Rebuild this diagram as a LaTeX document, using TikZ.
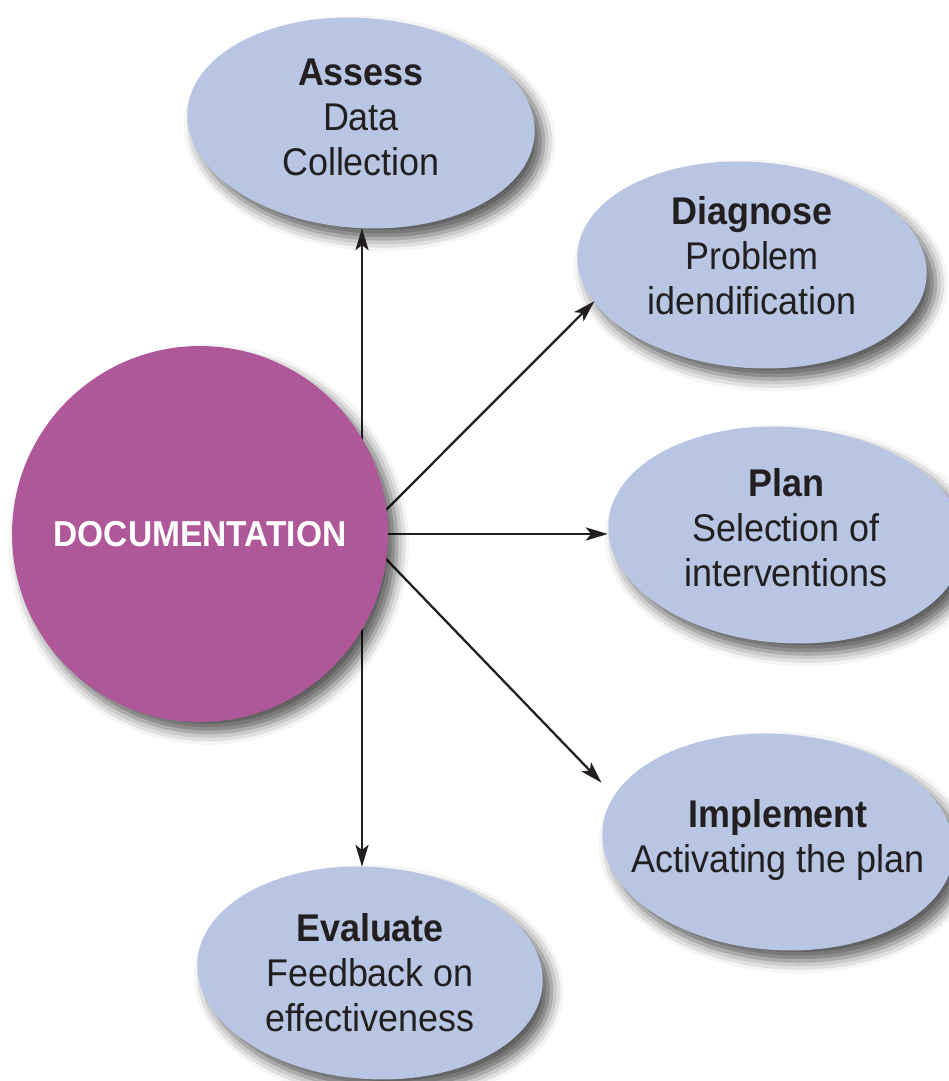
\documentclass[tikz,border=0pt]{standalone}
\usepackage{fontspec}
\setmainfont{Liberation Sans}[FakeStretch=0.93]
\usepackage{tikz}
\usetikzlibrary{arrows.meta,shapes.geometric,shadows.blur}
\definecolor{bubble}{HTML}{B8C6E4}
\definecolor{docpink}{HTML}{AF5899}
\definecolor{inkblack}{HTML}{231F20}

\begin{document}
\begin{tikzpicture}[x=0.02cm, y=-0.02cm,
		stage/.style n args={2}{ellipse, inner sep=0pt, align=center, text=inkblack,
			minimum width=#1*0.04cm, minimum height=#2*0.04cm,
			font=\fontsize{22}{25.6}\selectfont},
		link/.style={draw=inkblack, line width=1.3pt,
			-{Stealth[length=12.5pt, width=7.5pt, inset=3pt]}},
		soft/.style={blur shadow={shadow xshift=5pt, shadow yshift=-6pt,
			shadow blur radius=7pt, shadow opacity=65}}]
		\useasboundingbox (0,0) rectangle (949,1081);
		% tilted bubbles behind the steps
		\foreach \cx/\cy/\rx/\ry in {361/123/174/105, 752/265/175/103, 786/535/178/108,
			778/842/176/108, 370/973/173/106} {
			\fill[bubble, soft, rotate around={-4:(\cx,\cy)}]
				(\cx,\cy) ellipse [x radius=\rx*0.02cm, y radius=\ry*0.02cm];
		}
		% the five steps (text sits a little above the bubble centre)
		\node[stage={174}{111}] (assess) at (361,117) {\textbf{Assess}\\Data\\Collection};
		\node[stage={175}{103}] (diagnose) at (752,256) {\textbf{Diagnose}\\Problem\\idendification};
		\node[stage={178}{108}] (plan) at (786,528) {\textbf{Plan}\\Selection of\\interventions};
		\node[stage={176}{108}] (implement) at (778,840) {\textbf{Implement}\\Activating the plan};
		\node[stage={173}{106}] (evaluate) at (370,973) {\textbf{Evaluate}\\Feedback on\\effectiveness};
		% arrows start behind the circle
		\coordinate (hub) at (362,534);
		\draw[link] (hub) -- (hub |- assess.south);
		\draw[link] (hub) -- (diagnose.196);
		\draw[link] (hub) -- (hub -| plan.west);
		\draw[link] (hub) -- (implement.162);
		\draw[link] (hub) -- (hub |- evaluate.north);
		\node[circle, fill=docpink, soft, minimum size=7.52cm, inner sep=0pt, text=white,
			font=\bfseries\fontsize{20.5}{24}\selectfont] (doc) at (200,534) {DOCUMENTATION};
	\end{tikzpicture}
\end{document}
